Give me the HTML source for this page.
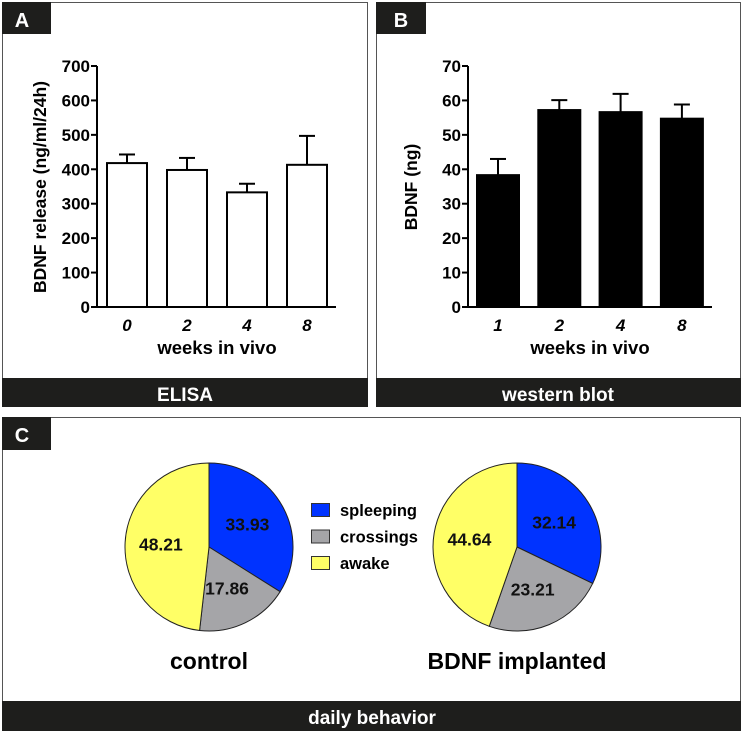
<!DOCTYPE html>
<html><head><meta charset="utf-8"><style>
html,body{margin:0;padding:0;background:#fff;}
svg{display:block;font-family:"Liberation Sans",Arial,sans-serif;font-weight:bold;}
</style></head><body>
<svg id="fig" width="744" height="733" viewBox="0 0 744 733" xmlns="http://www.w3.org/2000/svg">
  <rect x="2.5" y="2.5" width="365" height="404" fill="#fff" stroke="#555" stroke-width="1"/>
  <rect x="2" y="2" width="49" height="32" fill="#1e1e1c"/>
  <text x="22" y="27" fill="#fff" font-size="20" text-anchor="middle">A</text>
  <rect x="2" y="378" width="366" height="29" fill="#1e1e1c"/>
  <text x="185" y="401" fill="#fff" font-size="19" text-anchor="middle">ELISA</text>

  <rect x="376.5" y="2.5" width="364" height="404" fill="#fff" stroke="#555" stroke-width="1"/>
  <rect x="376" y="2" width="50" height="32" fill="#1e1e1c"/>
  <text x="401" y="27" fill="#fff" font-size="20" text-anchor="middle">B</text>
  <rect x="376" y="378" width="365" height="29" fill="#1e1e1c"/>
  <text x="558" y="401" fill="#fff" font-size="19" text-anchor="middle">western blot</text>

  <rect x="2.5" y="417.5" width="738" height="313" fill="#fff" stroke="#555" stroke-width="1"/>
  <rect x="2" y="417" width="49" height="33" fill="#1e1e1c"/>
  <text x="22" y="442" fill="#fff" font-size="20" text-anchor="middle">C</text>
  <rect x="2" y="701" width="739" height="30" fill="#1e1e1c"/>
  <text x="372" y="724" fill="#fff" font-size="19" text-anchor="middle">daily behavior</text>

  <g id="chartA"></g>
  <g id="chartB"></g>
  <g id="chartC"></g>
</svg>
<script>
const aCats = ["0","2","4","8"];
const aVals = [418, 398, 333, 413];
const aErrTop = [443, 433, 358, 497];
const aTicks = [0,100,200,300,400,500,600,700];
const bCats = ["1","2","4","8"];
const bVals = [38.3, 57.2, 56.6, 54.7];
const bErrTop = [43.0, 60.1, 61.9, 58.8];
const bTicks = [0,10,20,30,40,50,60,70];
const pieCats = ["spleeping","crossings","awake"];
const pieControl = [33.93, 17.86, 48.21];
const pieImplanted = [32.14, 23.21, 44.64];
const pieLabels = ["control","BDNF implanted"];

const NS = "http://www.w3.org/2000/svg";
function mk(tag, attrs, parent){ const e=document.createElementNS(NS,tag); for(const k in attrs) e.setAttribute(k,attrs[k]); parent.appendChild(e); return e; }

function barChart(g, cfg, cats, vals, errs, ticks, fill, ytitle){
  const y0=307, yTop=66, max=ticks[ticks.length-1];
  const y = v => y0 - (v/max)*(y0-yTop);
  const x = i => cfg.firstCenter + i*cfg.step;
  const ax = mk('line',{x1:cfg.axisX,y1:yTop,x2:cfg.axisX,y2:y0,stroke:'#000','stroke-width':2},g);
  
  
  const xa = mk('line',{x1:cfg.axisX-5,y1:y0,x2:cfg.axisEnd,y2:y0,stroke:'#000','stroke-width':2},g);
  
  
  ticks.forEach(t=>{
    const tl = mk('line',{x1:cfg.axisX-6,y1:y(t),x2:cfg.axisX,y2:y(t),stroke:'#000','stroke-width':2},g);
    
    
    const tx = mk('text',{x:cfg.axisX-7,y:y(t)+6,'text-anchor':'end','font-size':17},g);
    tx.textContent=t;
    
    
  });
  cats.forEach((c,i)=>{
    const cx=x(i);
    const el = mk('line',{x1:cx,y1:y(errs[i]),x2:cx,y2:y(vals[i]),stroke:'#000','stroke-width':2},g);
    
    
    const cap = mk('line',{x1:cx-8,y1:y(errs[i]),x2:cx+8,y2:y(errs[i]),stroke:'#000','stroke-width':2},g);
    
    
    const r = mk('rect',{x:cx-cfg.bw/2,y:y(vals[i]),width:cfg.bw,height:y0-y(vals[i]),fill:fill,stroke:'#000','stroke-width':2},g);
    
    
    const t = mk('text',{x:cx,y:331,'text-anchor':'middle','font-size':17,'font-style':'italic'},g);
    t.textContent=c;
    
    
  });
  const xt = mk('text',{x:cfg.xTitleX,y:354,'text-anchor':'middle','font-size':18.5},g);
  xt.textContent='weeks in vivo';
  
  
  const yt = mk('text',{x:0,y:0,'text-anchor':'middle','font-size':17.5,transform:`translate(${cfg.yTitleX},${cfg.yTitleY}) rotate(-90)`},g);
  yt.textContent=ytitle;
  
  
}

barChart(document.getElementById('chartA'),{axisX:97,axisEnd:336,firstCenter:127,step:60,bw:40,xTitleX:217,yTitleX:46,yTitleY:187},aCats,aVals,aErrTop,aTicks,'#fff','BDNF release (ng/ml/24h)');
barChart(document.getElementById('chartB'),{axisX:468,axisEnd:712,firstCenter:498,step:61.3,bw:42,xTitleX:590,yTitleX:417,yTitleY:187},bCats,bVals,bErrTop,bTicks,'#000','BDNF (ng)');

const colors=['#0033ff','#a5a5a8','#ffff66'];
function pie(g, cx, cy, r, vals, title){
  const total = vals.reduce((a,b)=>a+b,0);
  let a0 = -Math.PI/2;
  vals.forEach((v,i)=>{
    const a1 = a0 + v/total*2*Math.PI;
    const large = (a1-a0)>Math.PI?1:0;
    const d = `M${cx},${cy} L${cx+r*Math.cos(a0)},${cy+r*Math.sin(a0)} A${r},${r} 0 ${large} 1 ${cx+r*Math.cos(a1)},${cy+r*Math.sin(a1)} Z`;
    const p = mk('path',{d:d,fill:colors[i],stroke:'#222','stroke-width':1},g);
    
    
    const mid=(a0+a1)/2, lr=r*0.55;
    const t = mk('text',{x:cx+lr*Math.cos(mid)-2,y:cy+lr*Math.sin(mid)+6,'text-anchor':'middle','font-size':17.5,fill:'#111'},g);
    t.textContent=v.toFixed(2);
    
    
    a0=a1;
  });
  const tt = mk('text',{x:cx,y:cy+122,'text-anchor':'middle','font-size':23,fill:'#000'},g);
  tt.textContent=title;
  
  
}
const gc=document.getElementById('chartC');
pie(gc,209,547,84,pieControl,pieLabels[0]);
pie(gc,517,547,84,pieImplanted,pieLabels[1]);
pieCats.forEach((c,i)=>{
  const yy=503+i*26.5;
  const s = mk('rect',{x:311.5,y:yy+0.5,width:18,height:13,fill:colors[i],stroke:'#333','stroke-width':1},gc);
  
  
  const t = mk('text',{x:340,y:yy+13,'font-size':16.5},gc);
  t.textContent=c;
  
  
});
</script>
</body></html>
